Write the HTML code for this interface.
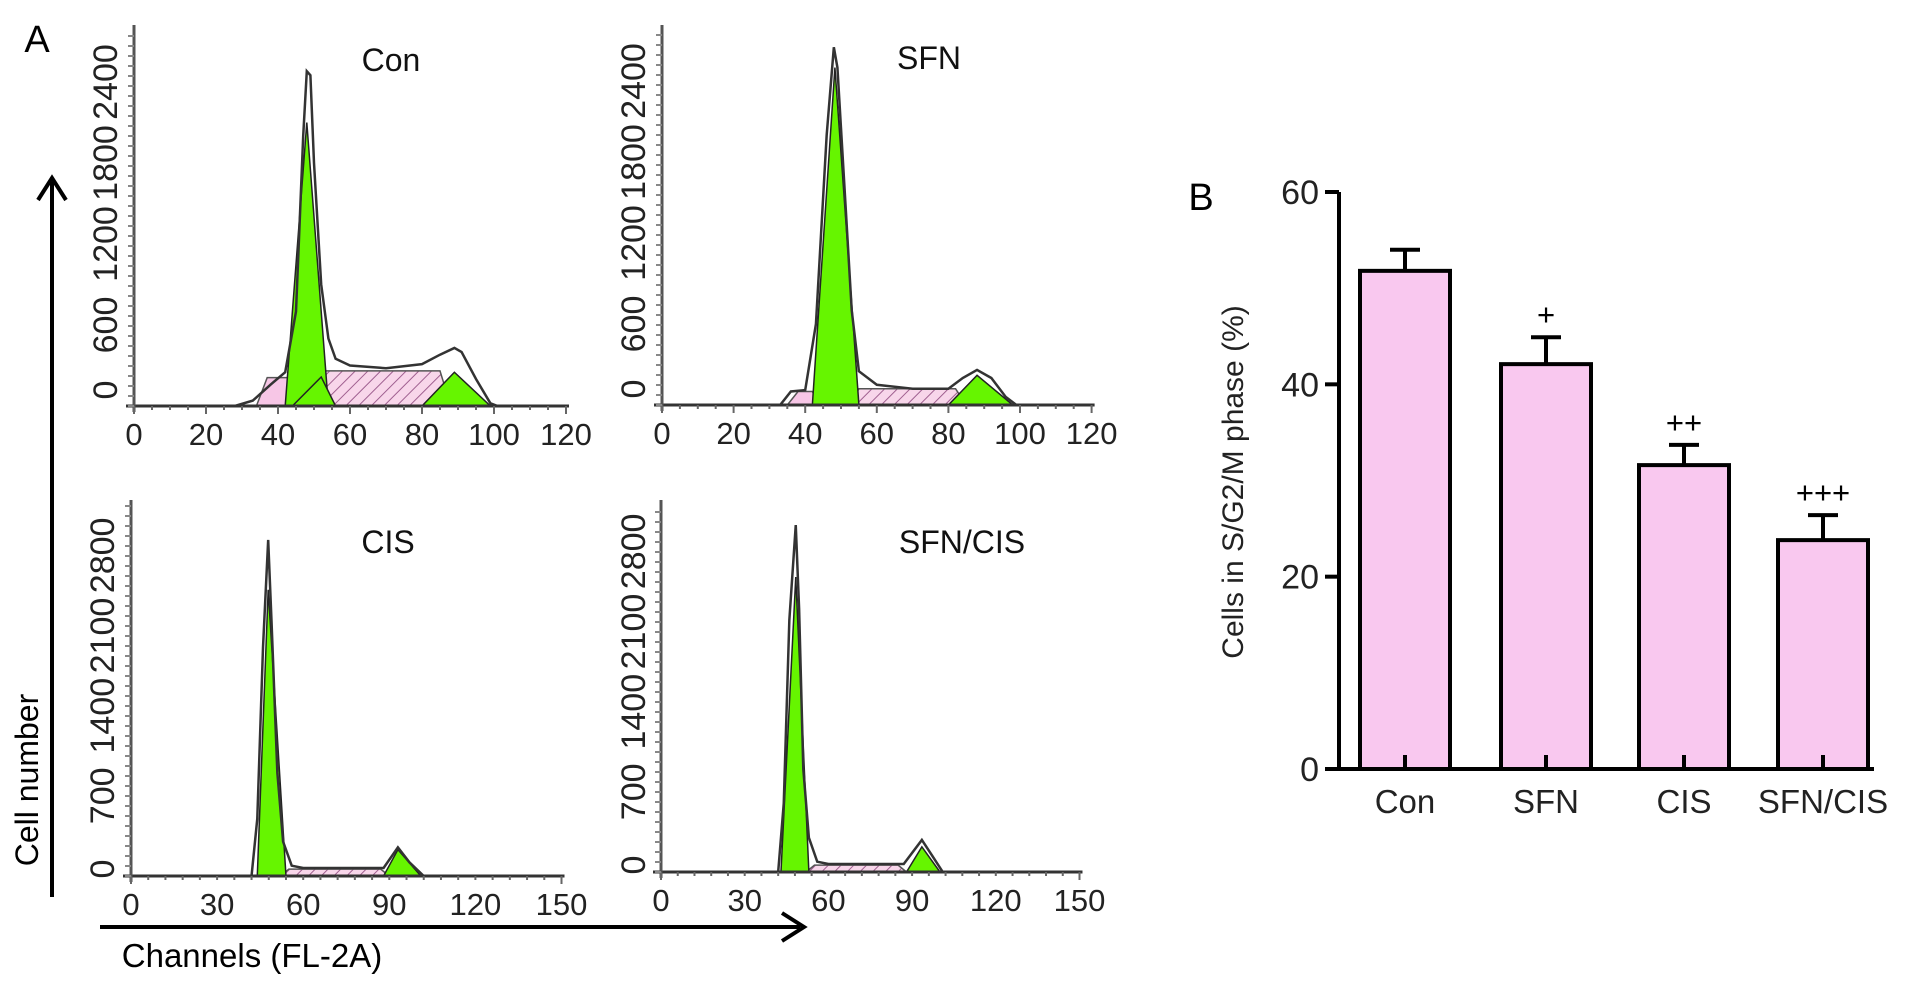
<!DOCTYPE html>
<html><head><meta charset="utf-8"><style>
html,body{margin:0;padding:0;background:#fff;}
svg{display:block;font-family:"Liberation Sans",Arial,sans-serif;}
</style></head><body>
<svg id="fig" width="1913" height="985" viewBox="0 0 1913 985" xmlns="http://www.w3.org/2000/svg">
<defs>
<pattern id="hatch" patternUnits="userSpaceOnUse" width="9" height="9" patternTransform="rotate(45)">
<rect width="9" height="9" fill="#f8d6ea"/><line x1="0" y1="0" x2="0" y2="9" stroke="#a06090" stroke-width="2"/>
</pattern>
</defs>
<text x="37" y="52" font-size="38" text-anchor="middle">A</text>
<text x="1201" y="210" font-size="38" text-anchor="middle">B</text>
<g id="hist"></g>
<g id="bars"></g>
<line x1="52" y1="897" x2="52" y2="182" stroke="#000" stroke-width="4"/>
<polyline points="38,200 52,178 66,200" fill="none" stroke="#000" stroke-width="4"/>
<text x="0" y="0" font-size="32" text-anchor="middle" transform="translate(38,780) rotate(-90)">Cell number</text>
<line x1="100" y1="927" x2="800" y2="927" stroke="#000" stroke-width="4"/>
<polyline points="782,913 804,927 782,941" fill="none" stroke="#000" stroke-width="4"/>
<text x="252" y="967" font-size="33" text-anchor="middle">Channels (FL-2A)</text>
</svg>
<script>
// ---- Histogram data ----
const histTitles = ["Con", "SFN", "CIS", "SFN/CIS"];
const histXTicks = [[0,20,40,60,80,100,120],[0,20,40,60,80,100,120],[0,30,60,90,120,150],[0,30,60,90,120,150]];
const histYTicks = [[0,600,1200,1800,2400],[0,600,1200,1800,2400],[0,700,1400,2100,2800],[0,700,1400,2100,2800]];
const outlineCon = [[0,0],[28,0],[33,40],[38,160],[42,250],[45,700],[47,2000],[48,2480],[49,2450],[50,1800],[52,900],[54,500],[56,350],[60,300],[70,280],[80,310],[85,380],[89,430],[91,400],[95,200],[99,20],[101,0],[120,0]];
const outlineSFN = [[0,0],[33,0],[36,100],[40,110],[43,600],[46,2000],[48,2650],[49,2500],[51,1600],[53,700],[55,250],[60,150],[70,120],[80,120],[84,200],[88,260],[92,200],[96,60],[99,0],[120,0]];
const outlineCIS = [[0,0],[42,0],[44,500],[46,2000],[47.8,2935],[49,2200],[51,900],[53,300],[56,90],[60,70],[88,70],[93,250],[97,120],[102,0],[150,0]];
const outlineSFNCIS = [[0,0],[42,0],[44,600],[46,2200],[48.3,3030],[49.5,2300],[51,900],[53,300],[56,90],[60,70],[87,70],[93.5,280],[97,150],[101,0],[150,0]];
const g1Peaks = [[42,48,2100,54],[42,48.3,2500,55],[44,47.8,2500,54],[43,48.3,2576,53]];
const g2Peaks = [[80,89,250,99],[80,88,220,98],[88,93,230,101],[88,93.5,220,100]];
const sPhase = [[50,88,260],[52,85,120],[52,90,60],[52,88,60]];
const subG1 = [[34,44,210],[35,42,100],[0,0,0],[0,0,0]];

// ---- Bar chart data ----
const barCategories = ["Con","SFN","CIS","SFN/CIS"];
const barValues = [51.8, 42.1, 31.6, 23.8];
const barErrors = [2.2, 2.8, 2.1, 2.6];
const barMarks = ["", "+", "++", "+++"];
const barYTicks = [0, 20, 40, 60];

const NS = "http://www.w3.org/2000/svg";
function mk(tag, attrs, parent){const e=document.createElementNS(NS,tag);for(const k in attrs)e.setAttribute(k,attrs[k]);parent.appendChild(e);return e;}

const outlines=[outlineCon,outlineSFN,outlineCIS,outlineSFNCIS];
const layouts=[[134,406,3.6,0.135,25,120,105],[662,405,3.58,0.135,25,120,633],[131,876,2.87,0.1145,500,150,102],[661,872,2.79,0.1145,500,150,633]];
const titlePos=[[391,71],[929,69],[388,553],[962,553]];
const hist=document.getElementById('hist');
layouts.forEach((L,i)=>{
  const [ax,by,kx,ky,top,xmax,lx]=L;
  const X=c=>ax+c*kx, Y=v=>by-v*ky;
  const g=mk('g',{},hist);
  
  
  const sp=subG1[i];
  if(sp[2]>0){const p=mk('polygon',{points:`${X(sp[0])},${by} ${X(sp[0]+3)},${Y(sp[2])} ${X(sp[1])},${Y(sp[2])} ${X(sp[1]+2)},${by}`,fill:'#f7c6e6',stroke:'#555','stroke-width':1.5},g);
    }
  const s=sPhase[i];
  const sp2=mk('polygon',{points:`${X(s[0])},${by} ${X(s[0]+3)},${Y(s[2])} ${X(s[1]-3)},${Y(s[2])} ${X(s[1])},${by}`,fill:'url(#hatch)',stroke:'#555','stroke-width':1.5},g);
  
  const a=g1Peaks[i];
  const p1=mk('polygon',{points:`${X(a[0])},${by} ${X(a[1])},${Y(a[2])} ${X(a[3])},${by}`,fill:'#66f500',stroke:'#222','stroke-width':1.5},g);
  
  if(i===0){const p=mk('polygon',{points:`${X(44)},${by} ${X(52)},${Y(215)} ${X(56)},${by}`,fill:'#66f500',stroke:'#222','stroke-width':1.5},g);
    }
  const b=g2Peaks[i];
  const p2=mk('polygon',{points:`${X(b[0])},${by} ${X(b[1])},${Y(b[2])} ${X(b[3])},${by}`,fill:'#66f500',stroke:'#222','stroke-width':1.5},g);
  
  const ol=mk('polyline',{points:outlines[i].map(d=>X(d[0])+','+Y(d[1])).join(' '),fill:'none',stroke:'#333','stroke-width':2.5},g);
  
  const xa=mk('line',{x1:ax-8,y1:by,x2:X(xmax)+3,y2:by,stroke:'#333','stroke-width':3},g);
  
  const ya=mk('line',{x1:ax,y1:by+6,x2:ax,y2:top,stroke:'#555','stroke-width':3},g);
  
  const xstep=xmax===120?5:6;
  for(let c=0;c<=xmax;c+=xstep){mk('line',{x1:X(c),y1:by,x2:X(c),y2:by+((c%(xmax/6))===0?8:4),stroke:'#666','stroke-width':2},g);}
  for(let yy=by;yy>=top+4;yy-=10){mk('line',{x1:ax-6,y1:yy,x2:ax,y2:yy,stroke:'#888','stroke-width':2},g);}
  histXTicks[i].forEach(t=>{const tx=mk('text',{x:X(t),y:by+39,'font-size':31,'text-anchor':'middle',fill:'#222'},g);tx.textContent=t;
    });
  histYTicks[i].forEach(t=>{let cy=Math.min(Y(t),by-(i<2?16:7));
    const tx=mk('text',{x:0,y:0,'font-size':34,'text-anchor':'middle',fill:'#222',transform:`translate(${lx+12},${cy}) rotate(-90)`},g);tx.textContent=t;
    });
  const tt=mk('text',{x:titlePos[i][0],y:titlePos[i][1],'font-size':32,'text-anchor':'middle',fill:'#111'},g);tt.textContent=histTitles[i];
  
});

// ---- Bar chart ----
const bars=document.getElementById('bars');
const bAX=1339, bBase=769, bPer=(769-192)/60;
const bY=v=>bBase-v*bPer;
const barX=[1360,1501,1639,1778], barW=90;
barValues.forEach((v,i)=>{
  const cx=barX[i]+barW/2;
  const r=mk('rect',{x:barX[i],y:bY(v),width:barW,height:bBase-bY(v),fill:'#f9c8ef',stroke:'#000','stroke-width':4},bars);
  
  
  const e=mk('line',{x1:cx,y1:bY(v),x2:cx,y2:bY(v+barErrors[i]),stroke:'#000','stroke-width':4},bars);
  
  const c=mk('line',{x1:cx-15,y1:bY(v+barErrors[i]),x2:cx+15,y2:bY(v+barErrors[i]),stroke:'#000','stroke-width':4},bars);
  
  mk('line',{x1:cx,y1:bBase,x2:cx,y2:bBase-14,stroke:'#000','stroke-width':4},bars);
  if(barMarks[i]){const m=mk('text',{x:cx,y:bY(v+barErrors[i])-12,'font-size':31,'text-anchor':'middle'},bars);m.textContent=barMarks[i];
    }
  const l=mk('text',{x:cx,y:813,'font-size':33,'text-anchor':'middle',fill:'#222'},bars);l.textContent=barCategories[i];
  
});
const bya=mk('line',{x1:bAX,y1:bBase+2,x2:bAX,y2:bY(60),stroke:'#000','stroke-width':4},bars);

const bxa=mk('line',{x1:bAX-12,y1:bBase,x2:1874,y2:bBase,stroke:'#000','stroke-width':4},bars);

barYTicks.forEach(t=>{mk('line',{x1:bAX-14,y1:bY(t),x2:bAX,y2:bY(t),stroke:'#000','stroke-width':4},bars);
  const tx=mk('text',{x:bAX-20,y:bY(t)+12,'font-size':34,'text-anchor':'end',fill:'#222'},bars);tx.textContent=t;
  });
const yt=mk('text',{x:0,y:0,'font-size':30,'text-anchor':'middle',fill:'#222',transform:'translate(1243,482) rotate(-90)'},bars);
yt.textContent='Cells in S/G2/M phase (%)';

</script>
</body></html>
